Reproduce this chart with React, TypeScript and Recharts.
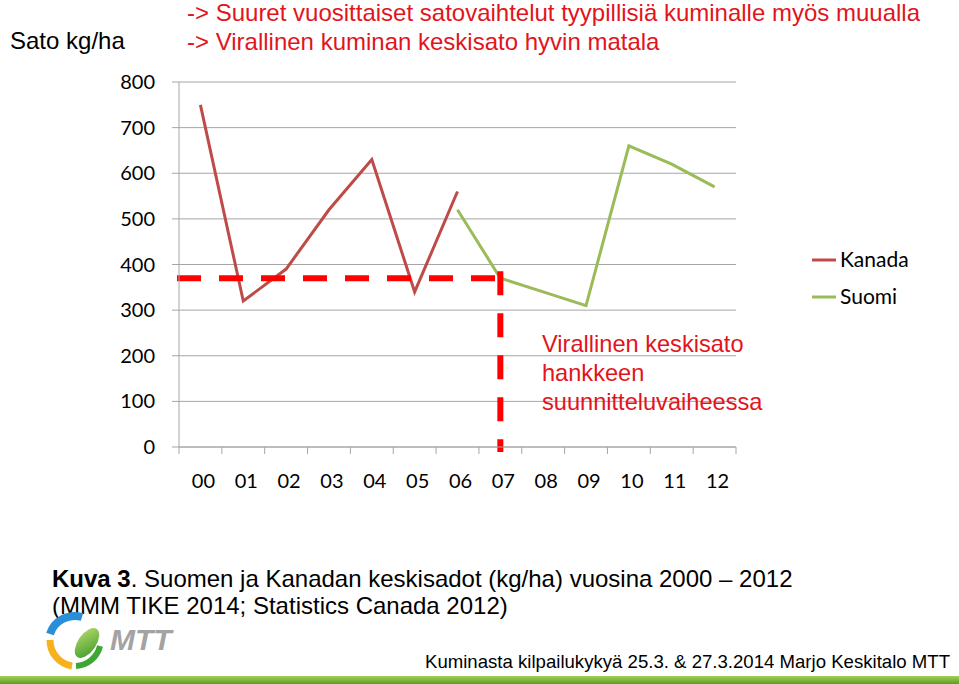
import { LineChart, Line, XAxis, YAxis, CartesianGrid, ReferenceLine } from 'recharts';

// data
const years = ['00', '01', '02', '03', '04', '05', '06', '07', '08', '09', '10', '11', '12'];
const kanada = [750, 320, 390, 520, 630, 340, 560, null, null, null, null, null, null];
const suomi = [null, null, null, null, null, null, 520, 370, 340, 310, 660, 620, 570];
const yTicks = [0, 100, 200, 300, 400, 500, 600, 700, 800];
const seriesNames = ['Kanada', 'Suomi'];
const seriesColors = ['#be4b48', '#9bbb59'];
const officialYear = '07';
const officialAvg = 370;

const titleLines = [
  '-> Suuret vuosittaiset satovaihtelut tyypillisiä kuminalle myös muualla',
  '-> Virallinen kuminan keskisato hyvin matala',
];
const noteLines = ['Virallinen keskisato', 'hankkeen', 'suunnitteluvaiheessa'];
const yLabel = 'Sato kg/ha';
const captionBold = 'Kuva 3';
const captionRest = '. Suomen ja Kanadan keskisadot (kg/ha) vuosina 2000 – 2012';
const captionLine2 = '(MMM TIKE 2014; Statistics Canada 2012)';
const footer = 'Kuminasta kilpailukykyä 25.3. & 27.3.2014 Marjo Keskitalo MTT';

const data = years.map((year, i) => ({ year, Kanada: kanada[i], Suomi: suomi[i] }));

// layout
const W = 959;
const H = 684;
const PLOT_LEFT = 179;
const PLOT_RIGHT = 736;
const PLOT_TOP = 82;
const PLOT_BOTTOM = 447;
const X_AXIS_H = 60;
const BAND = (PLOT_RIGHT - PLOT_LEFT) / years.length;
const AXIS = '#a6a6a6';
const DASH_RED = '#ff0000';
const TEXT_RED = '#e2141c';
const ARIAL = '"Liberation Sans", Arial, sans-serif';
const CALIBRI = 'Lato, "Open Sans", sans-serif';

const XTick = (props: any) => {
  const { x, y, payload } = props;
  const half = BAND / 2;
  const isLast = payload.value === years[years.length - 1];
  return (
    <g>
      <line x1={x - half} x2={x - half} y1={y} y2={y + 7} stroke={AXIS} />
      {isLast && <line x1={x + half} x2={x + half} y1={y} y2={y + 7} stroke={AXIS} />}
      <text x={x + 3} y={y + 41} textAnchor="middle" fontFamily={CALIBRI} fontSize={20} fill="#000">
        {payload.value}
      </text>
    </g>
  );
};

// horizontal dash: starts a bit left of the y axis
const HDash = (p: any) => (
  <line x1={p.x1 - BAND / 2 - 2} y1={p.y1} x2={p.x2} y2={p.y2} stroke={DASH_RED} strokeWidth={6} strokeDasharray="24 18" />
);

// vertical dash: runs a few px below the x axis
const VDash = (p: any) => (
  <line x1={p.x1} y1={p.y1 - 7} x2={p.x2} y2={p.y2 + 5} stroke={DASH_RED} strokeWidth={6} strokeDasharray="24 18" />
);

const Logo = () => (
  <g>
    <defs>
      <linearGradient id="leaf" x1="0" y1="0" x2="1" y2="1">
        <stop offset="0%" stopColor="#b6dc6a" />
        <stop offset="100%" stopColor="#3f9a2a" />
      </linearGradient>
    </defs>
    <path d="M 50 634 A 26 26 0 0 1 82 617" stroke="#2b8fd8" strokeWidth={8} fill="none" />
    <path d="M 50 640 A 26 26 0 0 0 72 666" stroke="#f4b21d" strokeWidth={7} fill="none" />
    <path d="M 76 666 A 26 26 0 0 0 100 646" stroke="#3fa535" strokeWidth={6} fill="none" />
    <ellipse cx={87} cy={643} rx={9} ry={17} transform="rotate(35 87 643)" fill="url(#leaf)" />
    <text x={110} y={650} fontFamily={ARIAL} fontSize={30} fontStyle="italic" fontWeight="bold" fill="#a3a3a3">
      MTT
    </text>
  </g>
);

export default function App() {
  return (
    <div style={{ position: 'absolute', left: 0, top: 0, width: W, height: H, background: '#fff', overflow: 'hidden' }}>
      <div style={{ position: 'absolute', left: 0, top: 0 }}>
        <LineChart
          width={W}
          height={H}
          data={data}
          margin={{ top: PLOT_TOP, right: W - PLOT_RIGHT, bottom: H - PLOT_BOTTOM - X_AXIS_H, left: 0 }}
        >
          <CartesianGrid vertical={false} stroke={AXIS} />
          <XAxis
            dataKey="year"
            height={X_AXIS_H}
            interval={0}
            padding={{ left: BAND / 2, right: BAND / 2 }}
            axisLine={{ stroke: AXIS }}
            tickLine={false}
            tickSize={0}
            tickMargin={0}
            tick={<XTick />}
          />
          <YAxis
            width={PLOT_LEFT}
            domain={[0, 800]}
            ticks={yTicks}
            interval={0}
            axisLine={{ stroke: AXIS }}
            tickLine={{ stroke: AXIS }}
            tickSize={7}
            tickMargin={17}
            tick={{ fill: '#000', fontSize: 20, fontFamily: CALIBRI }}
          />
          {seriesNames.map((name, i) => (
            <Line
              key={name}
              dataKey={name}
              stroke={seriesColors[i]}
              strokeWidth={3}
              dot={false}
              activeDot={false}
              isAnimationActive={false}
            />
          ))}
          <ReferenceLine
            segment={[{ x: years[0], y: officialAvg }, { x: officialYear, y: officialAvg }]}
            shape={HDash}
          />
          <ReferenceLine
            segment={[{ x: officialYear, y: officialAvg }, { x: officialYear, y: 0 }]}
            shape={VDash}
          />
        </LineChart>
      </div>
      <svg width={W} height={H} style={{ position: 'absolute', left: 0, top: 0, pointerEvents: 'none' }}>
        <text x={10} y={49} fontFamily={ARIAL} fontSize={24} fill="#000">{yLabel}</text>
        {titleLines.map((t, i) => (
          <text key={t} x={187} y={21 + i * 29} fontFamily={ARIAL} fontSize={24} fill={TEXT_RED}>{t}</text>
        ))}
        {noteLines.map((t, i) => (
          <text key={t} x={542} y={352 + i * 29} fontFamily={ARIAL} fontSize={23.6} fill={TEXT_RED}>{t}</text>
        ))}
        {seriesNames.map((name, i) => (
          <g key={name}>
            <line x1={812} x2={836} y1={260 + i * 37} y2={260 + i * 37} stroke={seriesColors[i]} strokeWidth={3} />
            <text x={840} y={267 + i * 37} fontFamily={CALIBRI} fontSize={21} fill="#000">{name}</text>
          </g>
        ))}
        <text x={52} y={587} fontFamily={ARIAL} fontSize={24} fill="#000">
          <tspan fontWeight="bold">{captionBold}</tspan>
          <tspan>{captionRest}</tspan>
        </text>
        <text x={52} y={614} fontFamily={ARIAL} fontSize={24} fill="#000">{captionLine2}</text>
        <Logo />
        <text x={425} y={668} fontFamily={ARIAL} fontSize={18.6} fill="#000">{footer}</text>
        <defs>
          <linearGradient id="bar" x1="0" y1="0" x2="0" y2="1">
            <stop offset="0%" stopColor="#9fd257" />
            <stop offset="100%" stopColor="#5c9e22" />
          </linearGradient>
        </defs>
        <rect x={0} y={676} width={W} height={8} fill="url(#bar)" />
      </svg>
    </div>
  );
}
